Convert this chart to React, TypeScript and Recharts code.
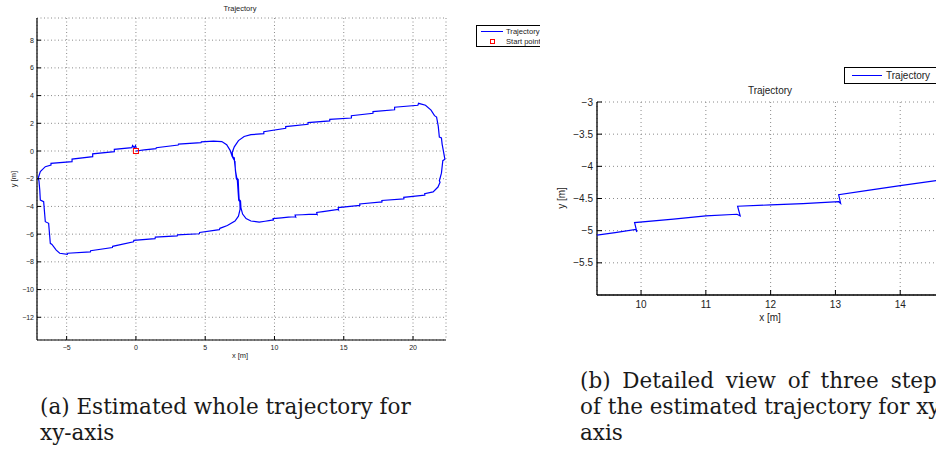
import React from 'react';
import { ScatterChart, Scatter, XAxis, YAxis, CartesianGrid } from 'recharts';

// Whole estimated trajectory (x, y in metres), in driving order
const trajX = [
  0, 0.6, 1.45, 1.47, 3.05, 3.07, 4.7, 4.72, 5.6, 6.2, 6.55, 6.8, 6.95,
  7.1, 7.12, 7.2, 7.28, 7.38, 7.42, 7.45, 7.55, 7.58,
  7.7, 7.95, 8.3, 8.9, 9.32, 9.6, 9.92, 9.935, 9.9, 10.5, 11.0, 11.48, 11.53, 11.49, 12.0, 12.5, 13.05, 13.08, 13.05, 13.5, 14.0,
  14.6, 14.62, 14.6, 16.15, 16.17, 16.15, 17.75, 17.77, 17.75, 19.33, 19.35, 19.33, 20.84, 20.86, 20.84,
  21.45, 21.8, 21.95, 21.9, 22.05, 22.15, 22.3, 22.2, 22.1, 22.05, 21.9, 21.82, 21.7, 21.55, 21.3, 20.9, 20.4, 20.35,
  18.67, 18.67, 17.11, 17.11, 15.55, 15.55, 13.99, 13.99, 12.42, 12.42, 10.81, 10.81, 9.23, 9.23,
  8.3, 7.81, 7.4, 7.1, 6.95, 6.98,
  7.15, 7.18, 7.25, 7.32, 7.38, 7.42, 7.5, 7.52,
  7.4, 7.15, 6.6, 6.06, 6.02, 4.6, 4.58, 3.0, 2.98, 1.4, 1.38, -0.15, -0.17, -1.68, -1.7, -3.27, -3.29, -4.92, -4.95,
  -5.5, -5.75, -6.06, -6.18, -6.3, -6.54, -6.66, -6.9, -6.94, -7.0, -7.05, -6.9, -6.54, -6.13, -6.13,
  -4.61, -4.61, -3.12, -3.12, -1.56, -1.56, -0.29, -0.24, -0.12, -0.03, 0.02,
];
const trajY = [
  0, 0.08, 0.17, 0.24, 0.43, 0.5, 0.6, 0.66, 0.71, 0.68, 0.45, 0.05, -0.4,
  -0.5, -0.8, -1.5, -1.95, -2.05, -3.0, -3.5, -3.6, -4.1,
  -4.55, -4.88, -5.05, -5.13, -5.07, -5.03, -4.98, -5.02, -4.875, -4.82, -4.77, -4.745, -4.77, -4.62, -4.6, -4.58, -4.55, -4.575, -4.44, -4.375, -4.3,
  -4.215, -4.24, -4.08, -3.93, -3.96, -3.82, -3.68, -3.71, -3.57, -3.45, -3.48, -3.34, -3.18, -3.21, -3.08,
  -2.95, -2.6, -2.25, -2.15, -1.6, -0.7, -0.6, -0.05, 0.5, 0.95, 1.0, 1.8, 2.45, 2.55, 2.95, 3.3, 3.44, 3.3,
  3.16, 2.98, 2.84, 2.72, 2.55, 2.38, 2.28, 2.17, 2.05, 1.93, 1.76, 1.64, 1.39, 1.25,
  1.18, 1.05, 0.75, 0.3, -0.1, -0.45,
  -0.75, -1.4, -2.0, -2.1, -3.0, -3.55, -3.65, -4.2,
  -4.7, -5.05, -5.38, -5.58, -5.68, -5.88, -5.97, -6.05, -6.13, -6.22, -6.32, -6.45, -6.55, -6.88, -6.97, -7.2, -7.28, -7.38, -7.45,
  -7.38, -7.15, -6.74, -6.66, -5.22, -5.1, -3.66, -3.54, -2.82, -2.15, -1.95, -1.49, -1.13, -1.01, -0.89,
  -0.77, -0.58, -0.41, -0.2, -0.05, 0.12, 0.24, 0.39, 0.24, 0.38, 0.22,
];
const startX = [0];
const startY = [0];

// Close-up of three correction steps on the lower straight
const detailX = [9.316, 9.6, 9.92, 9.935, 9.9, 10.5, 11.0, 11.48, 11.53, 11.49, 12.0, 12.5, 13.05, 13.08, 13.05, 13.5, 14.0, 14.6, 14.62, 14.6, 15.0];
const detailY = [-5.07, -5.03, -4.98, -5.02, -4.875, -4.82, -4.77, -4.745, -4.77, -4.62, -4.6, -4.58, -4.55, -4.575, -4.44, -4.375, -4.3, -4.215, -4.24, -4.1, -4.06];

const wholeXTicks = [-5, 0, 5, 10, 15, 20];
const wholeYTicks = [-12, -10, -8, -6, -4, -2, 0, 2, 4, 6, 8];
const detailXTicks = [10, 11, 12, 13, 14];
const detailYTicks = [-5.5, -5, -4.5, -4, -3.5, -3];

const toPoints = (xs: number[], ys: number[]) => xs.map((x, i) => ({ x, y: ys[i] }));
const fmt = (v: number) => (v < 0 ? '\u2212' + Math.abs(v) : String(v));

const BLUE = '#0000ff';
const GRID = '#8a8a8a';
const SANS = '"Liberation Sans", Arial, sans-serif';
const SERIF = '"DejaVu Serif", serif';

// MATLAB-style ticks: short marks pointing into the plot box, labels outside
const bottomTick = (len: number, size: number, dy: number) => (p: any) => (
  <g>
    <line x1={p.x} x2={p.x} y1={p.y} y2={p.y - len} stroke="#000" />
    <text x={p.x} y={p.y + dy} textAnchor="middle" fontSize={size} fontFamily={SANS} fill="#222">{fmt(p.payload.value)}</text>
  </g>
);
const leftTick = (len: number, size: number, gap: number) => (p: any) => (
  <g>
    <line x1={p.x} x2={p.x + len} y1={p.y} y2={p.y} stroke="#000" />
    <text x={p.x - gap} y={p.y + size * 0.36} textAnchor="end" fontSize={size} fontFamily={SANS} fill="#222">{fmt(p.payload.value)}</text>
  </g>
);
const topTick = (len: number) => (p: any) => <line x1={p.x} x2={p.x} y1={p.y} y2={p.y + len} stroke="#000" />;
const rightTick = (len: number) => (p: any) => <line x1={p.x} x2={p.x - len} y1={p.y} y2={p.y} stroke="#000" />;

const centered = (left: number, top: number, size: number, extra: React.CSSProperties = {}): React.CSSProperties => ({
  position: 'absolute', left, top, transform: 'translate(-50%, -50%)', fontSize: size, lineHeight: 1,
  fontFamily: SANS, color: '#222', whiteSpace: 'nowrap', ...extra,
});

function WholeTrajectory() {
  const axisLine = { stroke: '#000', strokeWidth: 1.2 };
  return (
    <div style={{ position: 'absolute', left: 0, top: 0, width: 540, height: 370, overflow: 'hidden' }}>
      <ScatterChart width={540} height={360} margin={{ top: 18, right: 94, bottom: 0, left: 0 }}>
        <CartesianGrid stroke={GRID} strokeDasharray="1 2.5" />
        <XAxis type="number" dataKey="x" domain={[-7.14, 22.38]} allowDataOverflow ticks={wholeXTicks} interval={0}
          height={20} tickSize={0} tickMargin={0} axisLine={axisLine} tickLine={false} tick={bottomTick(4, 7, 10)} />
        <XAxis xAxisId="top" orientation="top" type="number" dataKey="x" domain={[-7.14, 22.38]} allowDataOverflow ticks={wholeXTicks}
          interval={0} height={0} tickSize={0} tickMargin={0} axisLine={axisLine} tickLine={false} tick={topTick(4)} />
        <YAxis type="number" dataKey="y" domain={[-13.64, 9.6]} allowDataOverflow ticks={wholeYTicks} interval={0}
          width={37} tickSize={0} tickMargin={0} axisLine={axisLine} tickLine={false} tick={leftTick(4, 7, 3)} />
        <YAxis yAxisId="right" orientation="right" type="number" dataKey="y" domain={[-13.64, 9.6]} allowDataOverflow ticks={wholeYTicks}
          interval={0} width={0} tickSize={0} tickMargin={0} axisLine={axisLine} tickLine={false} tick={rightTick(4)} />
        <Scatter data={toPoints(trajX, trajY)} line={{ stroke: BLUE, strokeWidth: 1.2 }} lineType="joint"
          shape={() => <g />} isAnimationActive={false} />
        <Scatter data={toPoints(startX, startY)} isAnimationActive={false}
          shape={(p: any) => <rect x={p.cx - 2.5} y={p.cy - 2.5} width={5} height={5} fill="none" stroke="#ff0000" strokeWidth={1} />} />
      </ScatterChart>
      <div style={centered(240, 9, 7.5)}>Trajectory</div>
      <div style={centered(240, 356, 7.5)}>x [m]</div>
      <div style={centered(14, 179, 7.5, { transform: 'translate(-50%, -50%) rotate(-90deg)' })}>y [m]</div>
      <div style={{ position: 'absolute', left: 476, top: 25, width: 90, height: 20, border: '1.5px solid #000', background: '#fff' }}>
        <div style={{ position: 'absolute', left: 4, top: 5, width: 22, height: 1.3, background: BLUE }} />
        <div style={{ position: 'absolute', left: 29, top: 0.5, fontSize: 7.6, lineHeight: '9px', fontFamily: SANS, color: '#222' }}>Trajectory</div>
        <div style={{ position: 'absolute', left: 13, top: 13, width: 3, height: 3, border: '1px solid #ff0000' }} />
        <div style={{ position: 'absolute', left: 29, top: 10.5, fontSize: 7.6, lineHeight: '9px', fontFamily: SANS, color: '#222', whiteSpace: 'nowrap' }}>Start point</div>
      </div>
    </div>
  );
}

function DetailTrajectory() {
  const axisLine = { stroke: '#000', strokeWidth: 1.3 };
  return (
    <div style={{ position: 'absolute', left: 540, top: 0, width: 396, height: 370, overflow: 'hidden' }}>
      <ScatterChart width={440} height={330} margin={{ top: 102, right: 15, bottom: 0, left: 0 }}>
        <CartesianGrid stroke={GRID} strokeDasharray="1 3" />
        <XAxis type="number" dataKey="x" domain={[9.32, 15.0]} allowDataOverflow ticks={detailXTicks} interval={0}
          height={35} tickSize={0} tickMargin={0} axisLine={axisLine} tickLine={false} tick={bottomTick(5, 10, 13)} />
        <XAxis xAxisId="top" orientation="top" type="number" dataKey="x" domain={[9.32, 15.0]} allowDataOverflow ticks={detailXTicks}
          interval={0} height={0} tickSize={0} tickMargin={0} axisLine={axisLine} tickLine={false} tick={topTick(5)} />
        <YAxis type="number" dataKey="y" domain={[-6.0, -3.0]} allowDataOverflow ticks={detailYTicks} interval={0}
          width={57} tickSize={0} tickMargin={0} axisLine={axisLine} tickLine={false} tick={leftTick(5, 10, 4)} />
        <YAxis yAxisId="right" orientation="right" type="number" dataKey="y" domain={[-6.0, -3.0]} allowDataOverflow ticks={detailYTicks}
          interval={0} width={0} tickSize={0} tickMargin={0} axisLine={axisLine} tickLine={false} tick={rightTick(5)} />
        <Scatter data={toPoints(detailX, detailY)} line={{ stroke: BLUE, strokeWidth: 1.2 }} lineType="joint"
          shape={() => <g />} isAnimationActive={false} />
      </ScatterChart>
      <div style={centered(230, 91, 10)}>Trajectory</div>
      <div style={centered(230, 318, 10)}>x [m]</div>
      <div style={centered(22, 198, 10, { transform: 'translate(-50%, -50%) rotate(-90deg)' })}>y [m]</div>
      <div style={{ position: 'absolute', left: 304, top: 67, width: 140, height: 15, border: '1.5px solid #000', background: '#fff' }}>
        <div style={{ position: 'absolute', left: 7, top: 7, width: 30, height: 1.2, background: BLUE }} />
        <div style={{ position: 'absolute', left: 41, top: 1, fontSize: 10, lineHeight: '13px', fontFamily: SANS, color: '#222' }}>Trajectory</div>
      </div>
    </div>
  );
}

const caption = (left: number, top: number, extra: React.CSSProperties = {}): React.CSSProperties => ({
  position: 'absolute', left, top, transform: 'translateY(-50%)', fontFamily: SERIF, fontSize: 21.5, lineHeight: 1,
  color: '#1a1a1a', whiteSpace: 'nowrap', ...extra,
});

export default function App() {
  return (
    <div style={{ position: 'fixed', left: 0, top: 0, width: 936, height: 457, overflow: 'hidden', background: '#fff' }}>
      <WholeTrajectory />
      <DetailTrajectory />
      <div style={caption(40, 407)}>(a) Estimated whole trajectory for</div>
      <div style={caption(40, 433)}>xy-axis</div>
      <div style={caption(580, 381, { wordSpacing: 5 })}>(b) Detailed view of three steps</div>
      <div style={caption(580, 407)}>of the estimated trajectory for xy-</div>
      <div style={caption(580, 433)}>axis</div>
    </div>
  );
}
